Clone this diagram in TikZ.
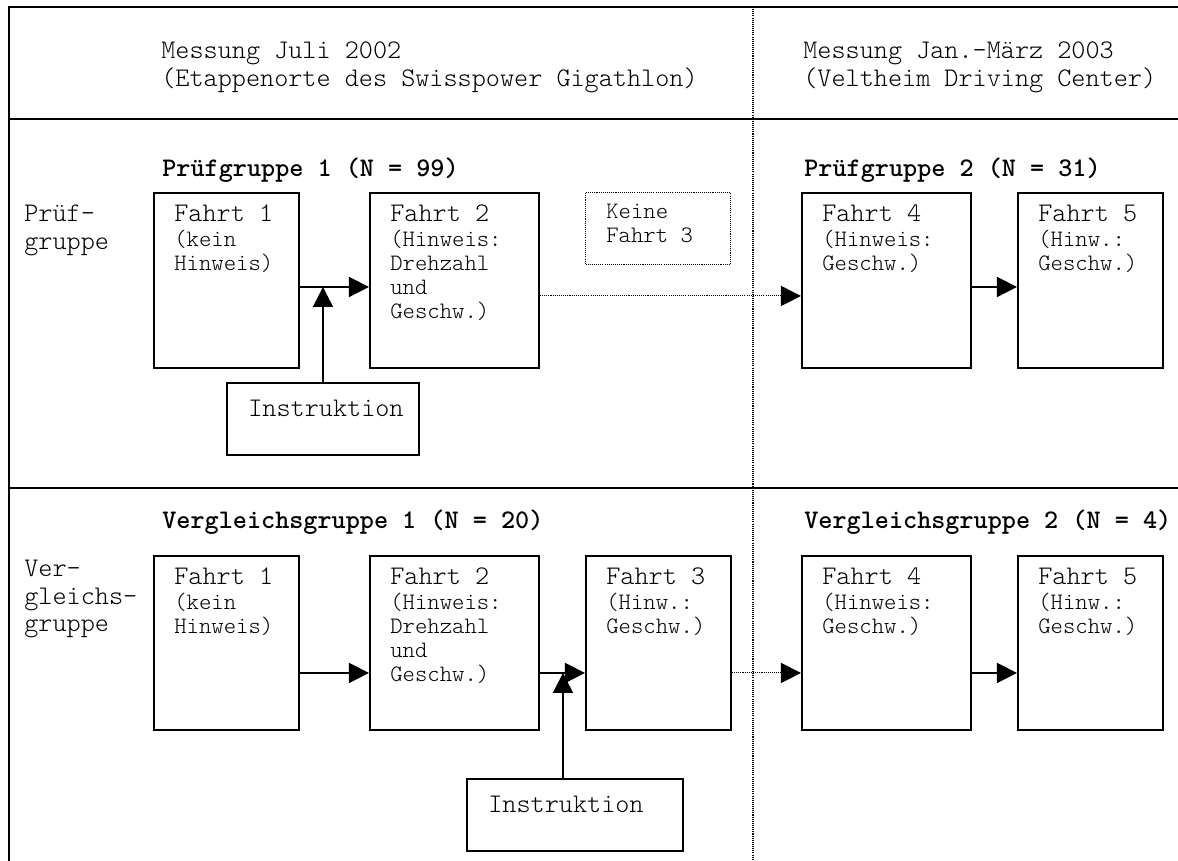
\documentclass[tikz,border=0pt]{standalone}
\usepackage{tikz}
\usetikzlibrary{arrows.meta}
\tikzstyle{plan} = [x = 0.02cm, y = -0.02cm]
\tikzstyle{frameLine} = [color=black, line width=1.1pt]
\tikzstyle{dotLine} = [color=black, line width=0.6pt, dash pattern=on 0.6pt off 0.6pt]
\tikzstyle{fahrtBoxStyle} = [draw, line width=1.1pt, inner sep=0, anchor=north west]
\tikzstyle{keineBoxStyle} = [draw, dotLine, inner sep=0, anchor=north west]
\newcommand{\mainFont}{\ttfamily\fontseries{l}\fontsize{15.3}{15.4}\selectfont}
\newcommand{\subFont}{\ttfamily\fontseries{l}\fontsize{13.4}{13.66}\selectfont}
\newcommand{\groupFont}{\ttfamily\fontseries{b}\fontsize{15.3}{15.4}\selectfont}
\newcommand{\textLines}[1]{\begin{tabular}[t]{@{}l@{}}#1\end{tabular}}
\tikzstyle{mainText} = [inner sep=0, anchor=base west, font=\mainFont]
\tikzstyle{subText} = [inner sep=0, anchor=base west, font=\subFont]
\tikzstyle{groupText} = [inner sep=0, anchor=base west, font=\groupFont]
\tikzstyle{solidArrow} = [line width=0.9pt, -{Triangle[length=11.4pt, width=11.4pt]}]
\tikzstyle{dotArrow} = [dotLine, -{Triangle[length=11.4pt, width=11.4pt]}]
\newcommand{\fahrtBox}[7]{
  \node [fahrtBoxStyle, minimum width=#4*0.02cm, minimum height=#5*0.02cm] (#1) at (#2,#3) {};
  \node [mainText] (#1Title) at (#2+21,#3+30) {#6};
  \node [subText] (#1Sub) at (#2+21,#3+55) {\textLines{#7}};
}
\newcommand{\instrBox}[4]{
  \node [fahrtBoxStyle, minimum width=#4*0.02cm, minimum height=72*0.02cm] (#1) at (#2,#3) {};
  \node [mainText] (#1Text) at (#2+22,#3+35) {Instruktion};
}

\begin{document}
\begin{tikzpicture}[plan]
  \useasboundingbox (0,0) rectangle (1178,861);
  \draw [frameLine] (1178,7) -- (9,7) -- (9,861);
  \draw [frameLine] (9,119) -- (1178,119);
  \draw [frameLine] (9,488) -- (1178,488);
  \draw [dotLine] (753,7) -- (753,861);

  \node [mainText] (kopfJuli) at (161,59) {\textLines{Messung Juli 2002\\(Etappenorte des Swisspower Gigathlon)}};
  \node [mainText] (kopfMaerz) at (803,59) {\textLines{Messung Jan.-März 2003\\(Veltheim Driving Center)}};

  \node [mainText] (pruefLabel) at (24,222) {\textLines{Prüf-\\gruppe}};
  \node [groupText] (pruef1) at (162,177) {Prüfgruppe 1 (N = 99)};
  \node [groupText] (pruef2) at (804,177) {Prüfgruppe 2 (N = 31)};
  \fahrtBox{f11}{153}{192}{145}{175}{Fahrt 1}{(kein\\Hinweis)}
  \fahrtBox{f12}{369}{192}{169}{175}{Fahrt 2}{(Hinweis:\\Drehzahl\\und\\Geschw.)}
  \fahrtBox{f14}{801}{192}{169}{175}{Fahrt 4}{(Hinweis:\\Geschw.)}
  \fahrtBox{f15}{1017}{192}{145}{175}{Fahrt 5}{(Hinw.:\\Geschw.)}
  \node [keineBoxStyle, minimum width=145*0.02cm, minimum height=72*0.02cm] (keine) at (585,192) {};
  \node [subText] (keineText) at (606,219) {\textLines{Keine\\Fahrt 3}};
  \instrBox{i1}{226}{382}{192}

  \node [mainText] (vglLabel) at (24,577) {\textLines{Ver-\\gleichs-\\gruppe}};
  \node [groupText] (vgl1) at (162,529) {Vergleichsgruppe 1 (N = 20)};
  \node [groupText] (vgl2) at (804,529) {Vergleichsgruppe 2 (N = 4)};
  \fahrtBox{f21}{153}{555}{145}{174}{Fahrt 1}{(kein\\Hinweis)}
  \fahrtBox{f22}{369}{555}{169}{174}{Fahrt 2}{(Hinweis:\\Drehzahl\\und\\Geschw.)}
  \fahrtBox{f23}{585}{555}{145}{174}{Fahrt 3}{(Hinw.:\\Geschw.)}
  \fahrtBox{f24}{801}{555}{169}{174}{Fahrt 4}{(Hinweis:\\Geschw.)}
  \fahrtBox{f25}{1017}{555}{145}{174}{Fahrt 5}{(Hinw.:\\Geschw.)}
  \instrBox{i2}{466}{778}{216}

  \coordinate (p1) at ([yshift=-0.13cm]f11.east);
  \coordinate (p2) at ([yshift=-0.6cm]f22.east);
  \coordinate (q2) at ([xshift=-0.24cm]i2.north);
  \draw [solidArrow] (p1) -- ([yshift=-0.13cm]f12.west);
  \draw [solidArrow] (i1.north) -- (i1.north |- p1);
  \draw [dotArrow] ([yshift=-0.31cm]f12.east) -- ([yshift=-0.31cm]f14.west);
  \draw [solidArrow] ([yshift=-0.13cm]f14.east) -- ([yshift=-0.13cm]f15.west);

  \draw [solidArrow] ([yshift=-0.6cm]f21.east) -- ([yshift=-0.6cm]f22.west);
  \draw [solidArrow] (p2) -- ([yshift=-0.6cm]f23.west);
  \draw [solidArrow] (q2) -- (q2 |- p2);
  \draw [dotArrow] ([yshift=-0.6cm]f23.east) -- ([yshift=-0.6cm]f24.west);
  \draw [solidArrow] ([yshift=-0.6cm]f24.east) -- ([yshift=-0.6cm]f25.west);
\end{tikzpicture}
\end{document}
